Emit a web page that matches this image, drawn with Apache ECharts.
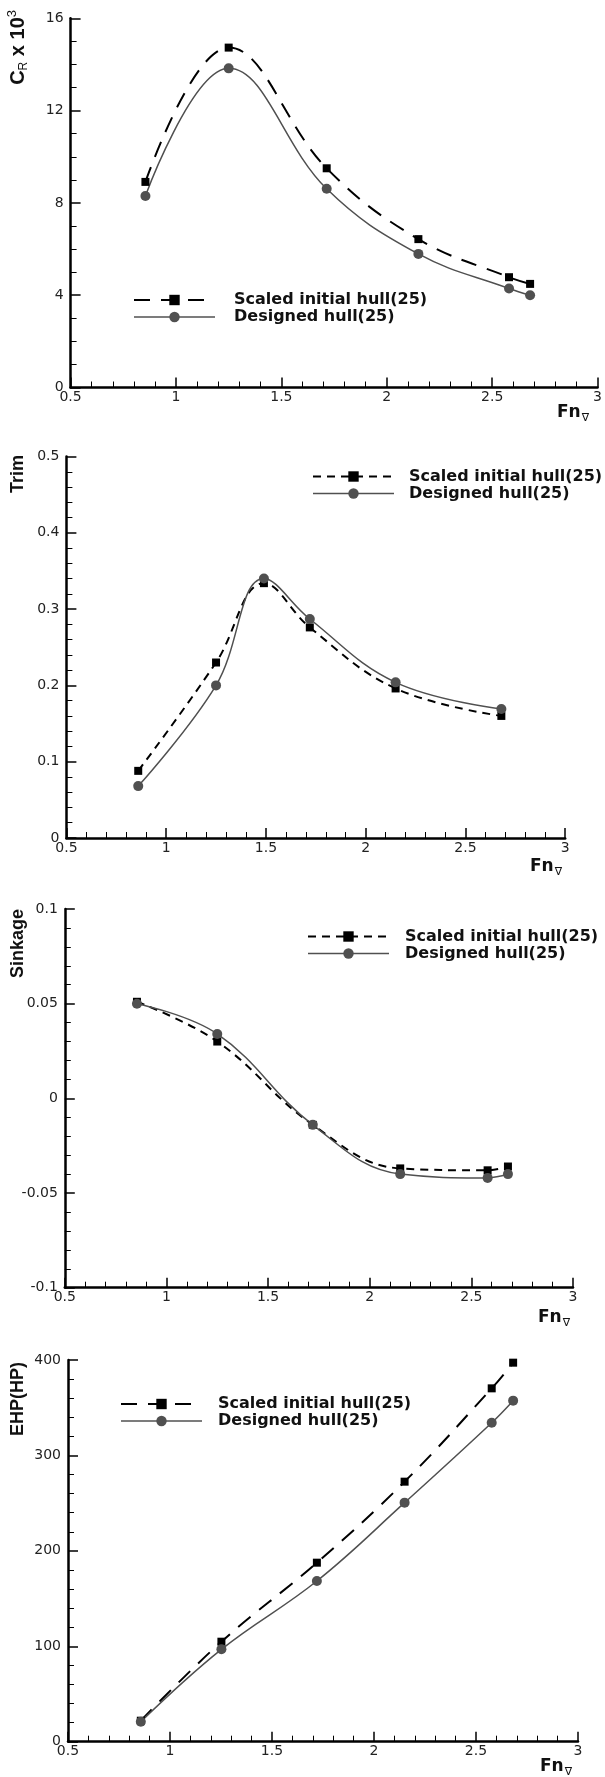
<!DOCTYPE html>
<html>
<head>
<meta charset="utf-8">
<script src="https://cdn.jsdelivr.net/npm/echarts@6/dist/echarts.min.js"></script>
<style>
    html, body { margin: 0; padding: 0; background: #fff; }
    #chart { width: 605px; height: 1777px; }
</style>
</head>
<body>
<div id="chart"></div>
<script>
// legend names
var scaledName = "Scaled initial hull(25)";
var designedName = "Designed hull(25)";

// CR x 10^3
var crFn = [0.855, 1.25, 1.715, 2.15, 2.58, 2.68];
var crScaled = [8.91, 14.73, 9.50, 6.43, 4.78, 4.49];
var crDesigned = [8.30, 13.83, 8.61, 5.79, 4.29, 4.00];

// Trim
var trimFn = [0.86, 1.25, 1.49, 1.72, 2.15, 2.68];
var trimScaled = [0.088, 0.230, 0.334, 0.276, 0.196, 0.160];
var trimDesigned = [0.068, 0.200, 0.340, 0.287, 0.204, 0.169];

// Sinkage
var sinkFn = [0.855, 1.25, 1.72, 2.15, 2.58, 2.68];
var sinkScaled = [0.051, 0.030, -0.014, -0.037, -0.038, -0.036];
var sinkDesigned = [0.050, 0.034, -0.014, -0.040, -0.042, -0.040];

// EHP(HP)
var ehpFn = [0.857, 1.252, 1.72, 2.15, 2.577, 2.682];
var ehpScaled = [22.0, 104.8, 187.6, 272.5, 370.3, 397.2];
var ehpDesigned = [21.0, 96.8, 168.4, 250.5, 334.3, 357.4];

// y axis ranges
var yMin = [0, 0, -0.1, 0];
var yMax = [16, 0.5, 0.1, 400];
var yStep = [4, 0.1, 0.05, 100];
var yMinor = [4, 5, 5, 5];

function pairs(xs, ys) {
    var out = [];
    for (var i = 0; i < xs.length; i++) {
        out.push([xs[i], ys[i]]);
    }
    return out;
}

var labelFont = {fontFamily: "DejaVu Sans", fontSize: 14, color: "#222"};

function xAxisOpt(i) {
    return {
        type: "value", gridIndex: i, min: 0.5, max: 3, interval: 0.5,
        axisLine: {onZero: false, lineStyle: {color: "#000", width: 2.5}},
        axisTick: {inside: true, length: 10, lineStyle: {color: "#000", width: 1.5}},
        minorTick: {show: true, splitNumber: 5, length: 6, lineStyle: {color: "#000", width: 1}},
        splitLine: {show: false},
        axisLabel: {margin: 3, fontFamily: labelFont.fontFamily, fontSize: labelFont.fontSize, color: labelFont.color,
            showMinLabel: true, showMaxLabel: true}
    };
}

function yAxisOpt(i) {
    return {
        type: "value", gridIndex: i, min: yMin[i], max: yMax[i], interval: yStep[i],
        axisLine: {onZero: false, lineStyle: {color: "#000", width: 2.5}},
        axisTick: {inside: true, length: 10, lineStyle: {color: "#000", width: 1.5}},
        minorTick: {show: true, splitNumber: yMinor[i], length: 6, lineStyle: {color: "#000", width: 1}},
        splitLine: {show: false},
        axisLabel: {margin: 7, fontFamily: labelFont.fontFamily, fontSize: labelFont.fontSize, color: labelFont.color,
            showMinLabel: true, showMaxLabel: true}
    };
}

function scaledSeries(i, data, dash) {
    return {
        type: "line", name: scaledName, xAxisIndex: i, yAxisIndex: i,
        data: data, smooth: 0.4, symbol: "rect", symbolSize: 8,
        itemStyle: {color: "#000", borderWidth: 0},
        lineStyle: {color: "#000", width: 2, type: dash}
    };
}

function designedSeries(i, data) {
    return {
        type: "line", name: designedName, xAxisIndex: i, yAxisIndex: i,
        data: data, smooth: 0.4, symbol: "circle", symbolSize: 10,
        itemStyle: {color: "#505050", borderWidth: 0},
        lineStyle: {color: "#505050", width: 1.5, type: "solid"}
    };
}

function legendOpt(left, top, gap, dash) {
    return {
        orient: "vertical", left: left, top: top, padding: 0,
        itemWidth: 81, itemHeight: 13, itemGap: 0, selectedMode: false,
        data: [
            {name: scaledName, lineStyle: {type: dash, width: 2}},
            {name: designedName, lineStyle: {type: "solid", width: 1.5}}
        ],
        textStyle: {fontFamily: "DejaVu Sans", fontWeight: "bold", fontSize: 16, color: "#111",
            lineHeight: 17, padding: [0, 0, 0, gap]}
    };
}

function yTitle(x, y, text, rich) {
    return {
        type: "text", x: x, y: y, rotation: Math.PI / 2,
        style: {text: text, rich: rich, fontFamily: "Liberation Sans", fontWeight: "bold", fontSize: 18,
            fill: "#111", align: "right", verticalAlign: "middle"}
    };
}

function fnTitle(x, y) {
    return {
        type: "text", x: x, y: y,
        style: {
            text: "{f|Fn}{s|∇}", align: "left", verticalAlign: "middle",
            rich: {
                f: {fontFamily: "DejaVu Sans", fontWeight: "bold", fontSize: 17, fill: "#111", lineHeight: 22},
                s: {fontFamily: "DejaVu Sans", fontSize: 11, fill: "#111", lineHeight: 22, verticalAlign: "bottom", padding: [0, 0, 0, 1]}
            }
        }
    };
}

var longDash = [16, 11];
var shortDash = [8, 6];

var chart = echarts.init(document.getElementById("chart"), null, {renderer: "canvas"});
chart.setOption({
    animation: false,
    backgroundColor: "#fff",
    grid: [
        {left: 70.6, top: 18.3, width: 529.4, height: 369.2},
        {left: 66.4, top: 456.5, width: 498.8, height: 381.5},
        {left: 64.8, top: 909, width: 508.2, height: 378.7},
        {left: 68, top: 1360, width: 510, height: 381.7}
    ],
    xAxis: [xAxisOpt(0), xAxisOpt(1), xAxisOpt(2), xAxisOpt(3)],
    yAxis: [yAxisOpt(0), yAxisOpt(1), yAxisOpt(2), yAxisOpt(3)],
    legend: [
        legendOpt(133, 291.5, 14, longDash),
        legendOpt(312, 468, 10, shortDash),
        legendOpt(307, 928, 11, shortDash),
        legendOpt(120, 1395.5, 11, longDash)
    ],
    series: [
        scaledSeries(0, pairs(crFn, crScaled), longDash),
        designedSeries(0, pairs(crFn, crDesigned)),
        scaledSeries(1, pairs(trimFn, trimScaled), shortDash),
        designedSeries(1, pairs(trimFn, trimDesigned)),
        scaledSeries(2, pairs(sinkFn, sinkScaled), shortDash),
        designedSeries(2, pairs(sinkFn, sinkDesigned)),
        scaledSeries(3, pairs(ehpFn, ehpScaled), longDash),
        designedSeries(3, pairs(ehpFn, ehpDesigned))
    ],
    graphic: [
        yTitle(18, 10, "{m|C}{s|R}{m| x 10}{p|3}", {
            m: {fontFamily: "Liberation Sans", fontWeight: "bold", fontSize: 20, fill: "#111", lineHeight: 24},
            s: {fontFamily: "Liberation Sans", fontSize: 12, fill: "#111", lineHeight: 24, verticalAlign: "bottom"},
            p: {fontFamily: "Liberation Sans", fontSize: 13, fill: "#111", lineHeight: 24, verticalAlign: "top"}
        }),
        yTitle(18, 455, "Trim"),
        yTitle(18, 909, "Sinkage"),
        yTitle(18, 1362, "EHP(HP)"),
        fnTitle(557, 413),
        fnTitle(530, 867),
        fnTitle(538, 1318),
        fnTitle(540, 1767)
    ]
});
</script>
</body>
</html>
